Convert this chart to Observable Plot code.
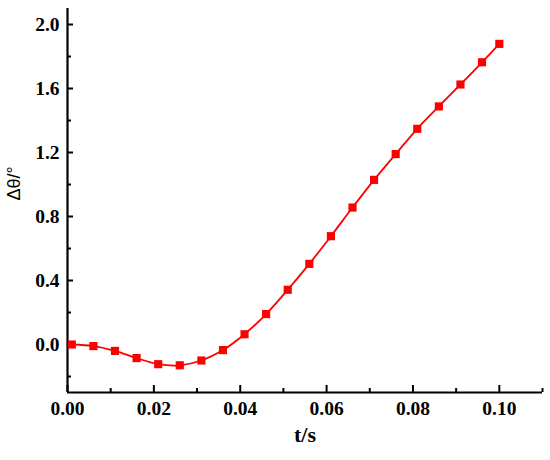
<!DOCTYPE html>
<html>
<head>
<meta charset="utf-8">
<script src="https://cdn.jsdelivr.net/npm/d3@7"></script>
<script src="https://cdn.jsdelivr.net/npm/@observablehq/plot@0.6"></script>
<style>
  html, body { margin: 0; padding: 0; background: #fff; }
</style>
</head>
<body>
<div id="chart"></div>
<script>
const tValues = [0.001, 0.006, 0.011, 0.016, 0.021, 0.026, 0.031, 0.036, 0.041, 0.046,
                 0.051, 0.056, 0.061, 0.066, 0.071, 0.076, 0.081, 0.086, 0.091, 0.096, 0.100];
const dTheta  = [0.000, -0.010, -0.040, -0.085, -0.123, -0.130, -0.100, -0.035, 0.064, 0.190,
                 0.342, 0.504, 0.677, 0.856, 1.029, 1.190, 1.348, 1.488, 1.625, 1.764, 1.879];
const xMajor = [0, 0.02, 0.04, 0.06, 0.08, 0.10];
const xMinor = [0.01, 0.03, 0.05, 0.07, 0.09, 0.11];
const yMajor = [0.0, 0.4, 0.8, 1.2, 1.6, 2.0];
const yMinor = [-0.2, 0.2, 0.6, 1.0, 1.4, 1.8];
const xTitle = "t/s";
const yTitle = "Δθ/°";

const data = tValues.map((t, i) => ({t, v: dTheta[i]}));
const serif = "'Liberation Serif', 'Times New Roman', serif";
const sans = "'Liberation Sans', Arial, sans-serif";

const chart = Plot.plot({
  width: 550,
  height: 460,
  marginLeft: 67,
  marginRight: 8,
  marginTop: 8,
  marginBottom: 68,
  style: {background: "#fff", color: "#000"},
  x: {domain: [0, 0.11]},
  y: {domain: [-0.3, 2.1]},
  marks: [
    // tick labels
    Plot.axisX(xMajor, {tickSize: 0, tickPadding: 9, tickFormat: d => d.toFixed(2),
      fontSize: 19.5, fontWeight: "bold", fontFamily: serif, label: null}),
    Plot.axisY(yMajor, {tickSize: 0, tickPadding: 8, tickFormat: d => d.toFixed(1),
      fontSize: 19.5, fontWeight: "bold", fontFamily: serif, label: null}),
    // inward ticks
    Plot.axisX(xMajor, {tickSize: 7, dy: -7, text: null, label: null, strokeWidth: 2}),
    Plot.axisX(xMinor, {tickSize: 4, dy: -4, text: null, label: null, strokeWidth: 2}),
    Plot.axisY(yMajor, {tickSize: 6, dx: 6, text: null, label: null, strokeWidth: 2}),
    Plot.axisY(yMinor, {tickSize: 4, dx: 4, text: null, label: null, strokeWidth: 2}),
    // axis lines
    Plot.ruleX([0], {stroke: "#000", strokeWidth: 2.2}),
    Plot.ruleY([-0.3], {stroke: "#000", strokeWidth: 2.2}),
    // data
    Plot.line(data, {x: "t", y: "v", stroke: "#ff0000", strokeWidth: 1.8, curve: "catmull-rom"}),
    Plot.dot(data, {x: "t", y: "v", symbol: "square", r: 4.6, fill: "#ff0000", stroke: "none"}),
    // titles
    Plot.text([xTitle], {text: d => d, frameAnchor: "bottom", dy: 49, fontSize: 22,
      fontWeight: "bold", fontFamily: serif, fill: "#000"}),
    Plot.text([yTitle], {text: d => d, frameAnchor: "left", dx: -53, rotate: -90,
      fontSize: 18, fontFamily: sans, fill: "#000"})
  ]
});
document.getElementById("chart").appendChild(chart);
</script>
</body>
</html>
